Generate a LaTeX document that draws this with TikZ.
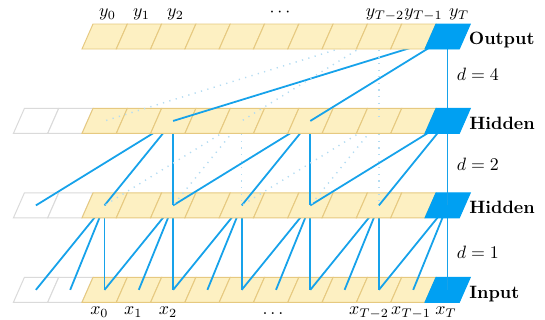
\documentclass[tikz,border=0pt]{standalone}
\begin{document}
\definecolor{cellfill}{RGB}{253,240,194}
\definecolor{cellline}{RGB}{230,201,128}
\definecolor{cellgray}{RGB}{218,218,218}
\definecolor{cellblue}{RGB}{0,160,242}
\definecolor{linkblue}{RGB}{22,162,234}
\definecolor{ghostblue}{RGB}{180,220,242}
\begin{tikzpicture}[x=0.56pt,y=-0.56pt,
  cellY/.style={fill=cellfill,draw=cellline,line width=0.55pt},
  cellW/.style={fill=white,draw=cellgray,line width=0.55pt},
  cellB/.style={fill=cellblue,draw=cellblue,line width=0.55pt},
  conn/.style={draw=linkblue,line width=1pt},
  ghost/.style={draw=ghostblue,line width=0.8pt,dash pattern=on 0.7pt off 3pt},
  layername/.style={font=\bfseries,anchor=base west,inner sep=0pt},
  dlabel/.style={anchor=base west,inner sep=0pt},
  seqlabel/.style={anchor=base,inner sep=0pt}]
\useasboundingbox (0,0) rectangle (545,320);
% cell centres
\foreach \r in {0,...,3}{
  \foreach \i in {-2,...,10}{
    \coordinate (c-\r-\i) at ({104.5+34.3*\i},{24+84.45*\r+12.5});
  }
}
\newcommand\cellshape[3]{% style, index, row top
  \path[#1] ({82+34.3*#2},{#3+25}) -- ({116.3+34.3*#2},{#3+25})
     -- ({127.3+34.3*#2},{#3}) -- ({93+34.3*#2},{#3}) -- cycle;}
\newcommand\layerrow[2]{% row, first index
  \pgfmathsetmacro\rtop{24+84.45*#1}
  \foreach \i in {#2,...,9}{
    \ifnum\i<0 \cellshape{cellW}{\i}{\rtop}\else\cellshape{cellY}{\i}{\rtop}\fi
  }
  \cellshape{cellB}{10}{\rtop}}
% through line
\draw[conn] (c-0-10) -- (c-3-10);
% input row
\layerrow{3}{-2}
% d = 1
\foreach \h in {0,2,...,10}{
  \pgfmathtruncatemacro\ha{\h-2}\pgfmathtruncatemacro\hb{\h-1}
  \draw[conn] (c-2-\h) -- (c-3-\ha);
  \draw[conn] (c-2-\h) -- (c-3-\hb);
  \draw[conn] (c-2-\h) -- (c-3-\h);
}
% hidden row B
\layerrow{2}{-2}
% d = 2
\foreach \a in {2,6,10}{
  \pgfmathtruncatemacro\aa{\a-4}\pgfmathtruncatemacro\ab{\a-2}
  \draw[conn] (c-1-\a) -- (c-2-\aa);
  \draw[conn] (c-1-\a) -- (c-2-\ab);
  \draw[conn] (c-1-\a) -- (c-2-\a);
}
\foreach \a in {4,8}{
  \pgfmathtruncatemacro\aa{\a-4}\pgfmathtruncatemacro\ab{\a-2}
  \draw[ghost] (c-1-\a) -- (c-2-\aa);
  \draw[ghost] (c-1-\a) -- (c-2-\ab);
  \draw[ghost] (c-1-\a) -- (c-2-\a);
}
% hidden row A
\layerrow{1}{-2}
% d = 4
\draw[conn] (c-0-10) -- (c-1-2);
\draw[conn] (c-0-10) -- (c-1-6);
\draw[ghost] (c-0-8) -- (c-1-0);
\draw[ghost] (c-0-8) -- (c-1-4);
\draw[ghost] (c-0-8) -- (c-1-8);
% output row
\layerrow{0}{0}
% layer names
\node[layername] (nOut) at (468.5,44.5) {Output};
\node[layername] (nHidA) at (469,129.5) {Hidden};
\node[layername] (nHidB) at (469,213.8) {Hidden};
\node[layername] (nIn) at (469,298) {Input};
% dilations
\node[dlabel] (d4) at (456.5,80) {$d=4$};
\node[dlabel] (d2) at (456.5,170.7) {$d=2$};
\node[dlabel] (d1) at (456.5,258.3) {$d=1$};
% output labels
\node[seqlabel] (y0) at (107.5,16.8) {$y_0$};
\node[seqlabel] (y1) at (141.5,16.8) {$y_1$};
\node[seqlabel] (y2) at (175.5,16.8) {$y_2$};
\node[seqlabel] (ydots) at (280,16.8) {$\cdots$};
\node[seqlabel] (yT2) at (385,16.8) {$y_{T-2}$};
\node[seqlabel] (yT1) at (423.5,16.8) {$y_{T-1}$};
\node[seqlabel] (yT) at (459,16.8) {$y_T$};
% input labels
\node[seqlabel] (x0) at (99.4,314.5) {$x_0$};
\node[seqlabel] (x1) at (133.3,314.5) {$x_1$};
\node[seqlabel] (x2) at (168,314.5) {$x_2$};
\node[seqlabel] (xdots) at (273,314.5) {$\ldots$};
\node[seqlabel] (xT2) at (369,314.5) {$x_{T-2}$};
\node[seqlabel] (xT1) at (411,314.5) {$x_{T-1}$};
\node[seqlabel] (xT) at (446,314.5) {$x_T$};
\end{tikzpicture}
\end{document}
